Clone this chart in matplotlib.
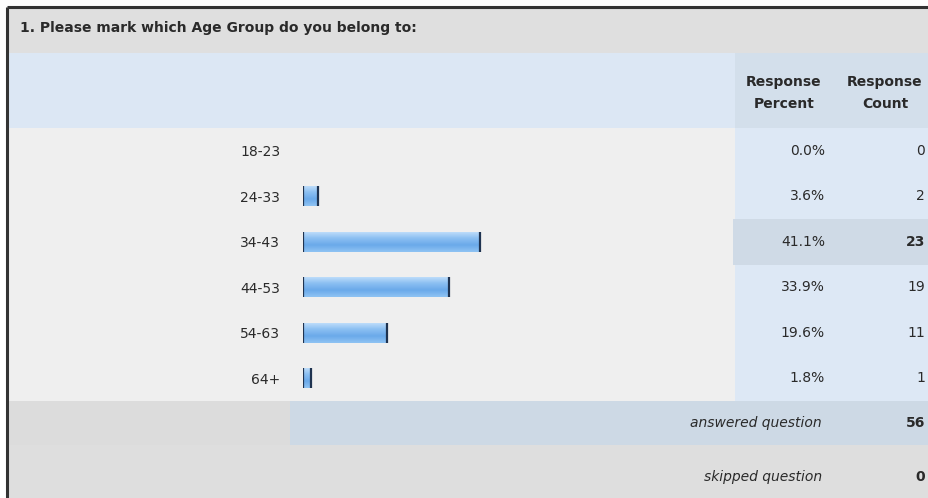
import matplotlib
matplotlib.use("Agg")
import matplotlib.pyplot as plt
import matplotlib.transforms as mtransforms
from matplotlib.patches import Rectangle
import numpy as np

# survey question 1 results
question = "1. Please mark which Age Group do you belong to:"
age_groups = ["18-23", "24-33", "34-43", "44-53", "54-63", "64+"]
percents = [0.0, 3.6, 41.1, 33.9, 19.6, 1.8]
counts = [0, 2, 23, 19, 11, 1]
answered = 56
skipped = 0

W, H = 929, 498
fig = plt.figure(figsize=(W / 100, H / 100), dpi=100)
fig.patch.set_facecolor("white")

# background axes in pixel units (y down)
bg = fig.add_axes([0, 0, 1, 1])
bg.set_xlim(0, W)
bg.set_ylim(H, 0)
bg.axis("off")

def box(x0, y0, x1, y1, color):
    bg.add_patch(Rectangle((x0, y0), x1 - x0, y1 - y0, facecolor=color, edgecolor="none"))

left, right = 8, W
col_pct = 735
rows_top, rows_bot = 128, 401

box(left, 8, right, 53, "#dfdfdf")           # title row
box(left, 53, col_pct, rows_top, "#dce7f4")  # header row
box(col_pct, 53, right, rows_top, "#d3dfeb")
box(left, rows_top, col_pct, rows_bot, "#efefef")
box(col_pct, rows_top, right, rows_bot, "#dde8f5")
row_h = (rows_bot - rows_top) / len(age_groups)
hi = int(np.argmax(counts))
box(col_pct - 2, rows_top + hi * row_h, right, rows_top + (hi + 1) * row_h, "#cfdae6")
box(left, rows_bot, 290, 445, "#dcdcdc")     # answered row
box(290, rows_bot, right, 445, "#cdd9e5")
box(left, 445, right, H, "#dedede")          # skipped row

# outer frame
bg.plot([7, 7], [H, 7], color="#333333", lw=2.2, solid_capstyle="butt")
bg.plot([7, W], [7, 7], color="#333333", lw=2.2, solid_capstyle="butt")

fs = 10
txt = "#2a2a2a"
bg.text(20, 28, question, fontsize=fs, fontweight="bold", color=txt, va="center")
for cx, word in [(784, "Percent"), (885, "Count")]:
    bg.text(cx, 82, "Response", fontsize=fs, fontweight="bold", color=txt,
            ha="center", va="center")
    bg.text(cx, 104, word, fontsize=fs, fontweight="bold", color=txt,
            ha="center", va="center")
bg.text(822, 423, "answered question", fontsize=fs, style="italic", color=txt,
        ha="right", va="center")
bg.text(925, 423, str(answered), fontsize=fs, fontweight="bold", color=txt,
        ha="right", va="center")
bg.text(822, 477, "skipped question", fontsize=fs, style="italic", color=txt,
        ha="right", va="center")
bg.text(925, 477, str(skipped), fontsize=fs, fontweight="bold", color=txt,
        ha="right", va="center")

# bar axes: 0-100 % across the bar area
bx0, bx1 = 303, 733
ax = fig.add_axes([bx0 / W, 1 - rows_bot / H, (bx1 - bx0) / W, (rows_bot - rows_top) / H])
ax.patch.set_alpha(0)
for s in ax.spines.values():
    s.set_visible(False)
ax.set_xticks([])
y = np.arange(len(age_groups))
ax.set_yticks(y)
ax.set_yticklabels(age_groups, fontsize=fs, color=txt)
ax.tick_params(axis="y", length=0, pad=16.5)

bh = 0.44
bars = ax.barh(y, percents, height=bh, color="#8ec0f0", edgecolor="none")
grad = np.linspace(0, 1, 50).reshape(-1, 1)
cmap = matplotlib.colors.LinearSegmentedColormap.from_list(
    "bar", ["#c4e0fb", "#8cc0f2", "#6aa9ea", "#8fc3f3"])
for b, p in zip(bars, percents):
    if p <= 0:
        continue
    im = ax.imshow(grad, cmap=cmap, aspect="auto", interpolation="bicubic",
                   extent=(0, p, b.get_y() + bh, b.get_y()), zorder=2)
    im.set_clip_path(b)
    ax.vlines([0, p], b.get_y(), b.get_y() + bh, color="#1f3350", lw=1.6, zorder=3)
ax.set_xlim(0, 100)
ax.set_ylim(len(age_groups) - 0.5, -0.5)

# percent / count columns aligned to the bar rows
tr = mtransforms.blended_transform_factory(bg.transData, ax.transData)
for i, (p, c) in enumerate(zip(percents, counts)):
    bg.text(825, i, f"{p:.1f}%", transform=tr, fontsize=fs, color=txt,
            ha="right", va="center")
    bg.text(925, i, str(c), transform=tr, fontsize=fs, color=txt,
            ha="right", va="center", fontweight="bold" if i == hi else "normal")
bg.set_zorder(0)
ax.set_zorder(1)

fig.savefig("out.png", dpi=100, facecolor=fig.get_facecolor())
